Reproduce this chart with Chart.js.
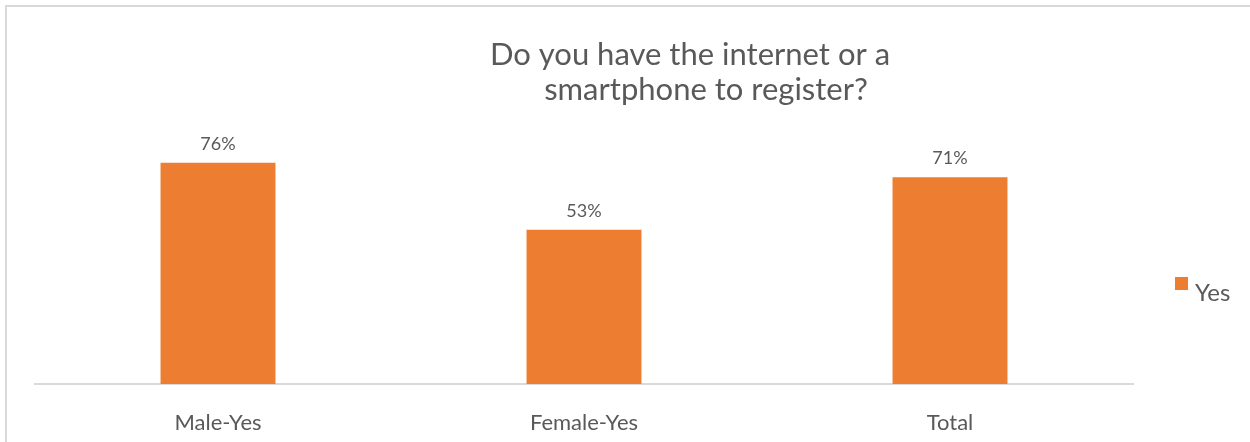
<!DOCTYPE html>
<html>
<head>
<meta charset="utf-8">
<script src="https://cdn.jsdelivr.net/npm/chart.js@4.4.0/dist/chart.umd.min.js"></script>
<style>
    html, body { margin: 0; padding: 0; background: #fff; overflow: hidden; }
    #frame { position: absolute; left: 5px; top: 5px; width: 1300px; height: 500px;
             border-left: 2px solid #d9d9d9; border-top: 2px solid #d9d9d9; }
    #wrap { position: absolute; left: 0; top: 0; width: 1250px; height: 442px; }
</style>
</head>
<body>
<div id="frame"></div>
<div id="wrap"><canvas id="chart" width="1250" height="442"></canvas></div>
<script>
/* Data */
const categories = ['Male-Yes', 'Female-Yes', 'Total'];
const yesValues = [76, 53, 71];
const seriesName = 'Yes';
const titleLines = ['Do you have the internet or a', 'smartphone to register?'];

const textColor = '#595959';
const barColor = '#ED7D31';
const fontFamily = 'Lato, "Open Sans", sans-serif';

/* Title drawn in two offset lines, like the original */
const titlePlugin = {
    id: 'twoLineTitle',
    afterDraw(chart) {
        const ctx = chart.ctx;
        ctx.save();
        ctx.fillStyle = textColor;
        ctx.font = '31px ' + fontFamily;
        ctx.textAlign = 'center';
        ctx.textBaseline = 'alphabetic';
        ctx.fillText(titleLines[0], 690, 65);
        ctx.fillText(titleLines[1], 706, 100);
        ctx.restore();
    }
};

/* Value labels above the bars */
const valueLabels = {
    id: 'valueLabels',
    afterDatasetsDraw(chart) {
        const ctx = chart.ctx;
        ctx.save();
        ctx.fillStyle = textColor;
        ctx.font = '18px ' + fontFamily;
        ctx.textAlign = 'center';
        ctx.textBaseline = 'alphabetic';
        chart.data.datasets.forEach(function (ds, i) {
            chart.getDatasetMeta(i).data.forEach(function (bar, j) {
                ctx.fillText(ds.data[j] + '%', bar.x, bar.y - 13);
            });
        });
        ctx.restore();
    }
};

/* Legend on the right */
const sideLegend = {
    id: 'sideLegend',
    afterDraw(chart) {
        const ctx = chart.ctx;
        const ds = chart.data.datasets[0];
        ctx.save();
        ctx.fillStyle = ds.backgroundColor;
        ctx.fillRect(1175, 277, 13, 13);
        ctx.fillStyle = textColor;
        ctx.font = '24px ' + fontFamily;
        ctx.textAlign = 'left';
        ctx.textBaseline = 'alphabetic';
        ctx.fillText(ds.label, 1195, 301);
        ctx.restore();
    }
};

const ctx = document.getElementById('chart').getContext('2d');
const chart = new Chart(ctx, {
    type: 'bar',
    data: {
        labels: categories,
        datasets: [{
            label: seriesName,
            data: yesValues,
            backgroundColor: barColor,
            borderWidth: 0,
            categoryPercentage: 1,
            barPercentage: 0.314
        }]
    },
    options: {
        responsive: false,
        animation: false,
        devicePixelRatio: 1,
        layout: {
            padding: { left: 35, right: 117, top: 151, bottom: 0 }
        },
        plugins: {
            legend: { display: false },
            title: { display: false },
            tooltip: { enabled: false }
        },
        scales: {
            x: {
                grid: { display: false, drawTicks: false },
                border: { display: true, color: '#d9d9d9', width: 2 },
                ticks: {
                    color: textColor,
                    font: { family: fontFamily, size: 22 },
                    padding: 26
                },
                afterFit: function (scale) { scale.height = 58; }
            },
            y: {
                display: false,
                min: 0,
                max: 80
            }
        }
    },
    plugins: [titlePlugin, valueLabels, sideLegend]
});
</script>
</body>
</html>
